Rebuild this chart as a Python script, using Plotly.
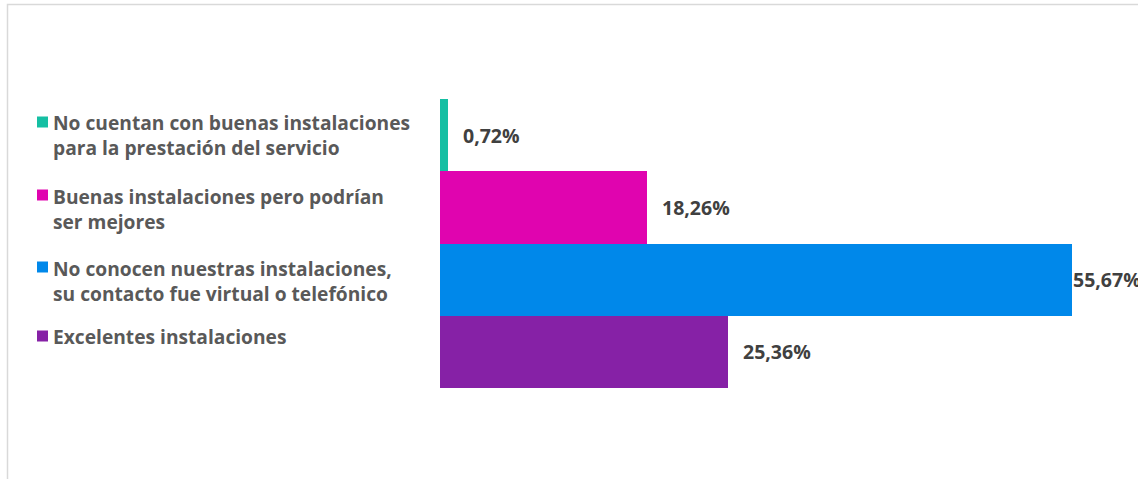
import plotly.graph_objects as go

categories = [
    "No cuentan con buenas instalaciones<br>para la prestación del servicio",
    "Buenas instalaciones pero podrían<br>ser mejores",
    "No conocen nuestras instalaciones,<br>su contacto fue virtual o telefónico",
    "Excelentes instalaciones",
]
values = [0.72, 18.26, 55.67, 25.36]
value_labels = ["0,72%", "18,26%", "55,67%", "25,36%"]
colors = ["#15BFA3", "#E004AF", "#0088EA", "#8621A6"]

W, H = 1138, 479
L, R, T, B = 440, 0, 99, 91
PW, PH = W - L - R, H - T - B

def px_x(px):
    return (px - L) / PW

def px_y(py):
    return (H - B - py) / PH

font_family = "'Open Sans', Lato, sans-serif"

fig = go.Figure()
for i, (cat, v, c) in enumerate(zip(categories, values, colors)):
    fig.add_trace(go.Bar(
        x=[v], y=[i], orientation="h", marker=dict(color=c, line=dict(width=0)),
        width=1.0, name=cat, showlegend=False, hoverinfo="skip",
    ))

# value labels
for i, (v, lab) in enumerate(zip(values, value_labels)):
    fig.add_annotation(
        x=v, y=i, xref="x", yref="y", text=lab, showarrow=False,
        xanchor="left", yanchor="middle", xshift=-1 if v > 50 else 13,
        font=dict(family=font_family, size=19.5, color="#404040", weight="bold"),
    )

# legend (text + squares)
legend_centers = [135, 208.5, 280.5, 336]
first_lines = [122, 195, 267, 336]
for cat, c, yc, yf in zip(categories, colors, legend_centers, first_lines):
    fig.add_annotation(
        x=px_x(51), y=px_y(yc), xref="paper", yref="paper", text=cat,
        showarrow=False, xanchor="left", yanchor="middle", align="left",
        font=dict(family=font_family, size=19.2, color="#595959", weight="bold"),
    )
    fig.add_shape(
        type="rect", xref="paper", yref="paper",
        x0=px_x(37), x1=px_x(48), y0=px_y(yf - 5.5), y1=px_y(yf + 5.5),
        fillcolor=c, line=dict(width=0),
    )

# outer border
fig.add_shape(
    type="rect", xref="paper", yref="paper",
    x0=px_x(7.5), x1=px_x(W + 20), y0=px_y(H + 20), y1=px_y(4.5),
    line=dict(color="#D9D9D9", width=1.5), fillcolor="rgba(0,0,0,0)", layer="below",
)

fig.update_layout(
    width=W, height=H,
    margin=dict(l=L, r=R, t=T, b=B, pad=0),
    paper_bgcolor="white", plot_bgcolor="white",
    bargap=0,
    showlegend=False,
    xaxis=dict(range=[0, PW / (632 / 55.67)], visible=False, fixedrange=True),
    yaxis=dict(range=[len(categories) - 0.5, -0.5], visible=False, fixedrange=True),
)

fig.write_html("out.html")
